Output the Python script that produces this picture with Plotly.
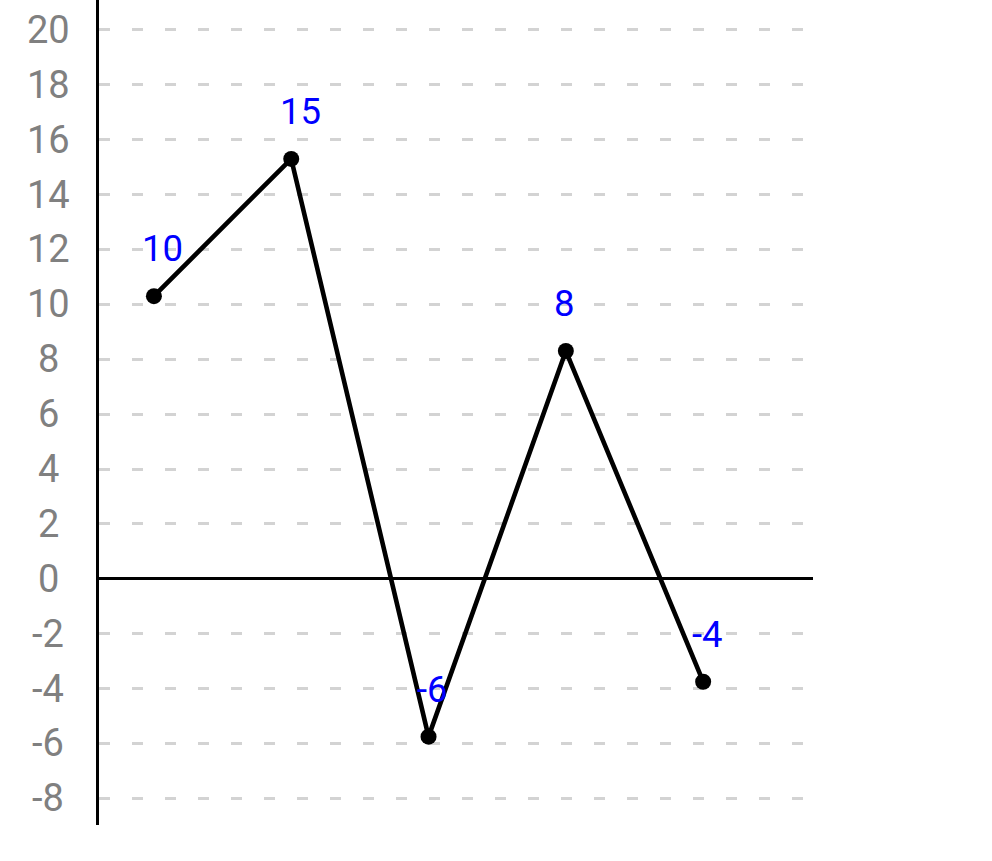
import plotly.graph_objects as go

# ---- data ----
categories = [0, 1, 2, 3, 4]
values = [10.3, 15.3, -5.75, 8.3, -3.75]
point_labels = ["10", "15", "-6", "8", "-4"]
y_ticks = [20, 18, 16, 14, 12, 10, 8, 6, 4, 2, 0, -2, -4, -6, -8]
y_tick_labels = [str(t) for t in y_ticks]

FONT = "Roboto"

fig = go.Figure()
fig.add_trace(go.Scatter(
    x=categories, y=values, mode="lines+markers",
    line=dict(color="black", width=4.6),
    marker=dict(color="black", size=16),
    hoverinfo="skip", showlegend=False,
))

annotations = []
for xv, yv, lab in zip(categories, values, point_labels):
    annotations.append(dict(
        x=xv, y=yv, xref="x", yref="y", text=lab, showarrow=False,
        xanchor="left", yanchor="bottom", xshift=-13.5, yshift=24,
        font=dict(family=FONT, size=36.5, color="#0000ff"),
    ))
for t, lab in zip(y_ticks, y_tick_labels):
    annotations.append(dict(
        x=-0.0714, y=t, xref="paper", yref="y", text=lab, showarrow=False,
        xanchor="center", yanchor="middle",
        font=dict(family=FONT, size=38, color="#808080"),
    ))

fig.update_layout(
    width=992, height=861,
    margin=dict(l=99, r=179, t=0, b=36, pad=0),
    paper_bgcolor="white", plot_bgcolor="white",
    font=dict(family=FONT),
    annotations=annotations,
    xaxis=dict(range=[-0.4, 4.8], showgrid=False, zeroline=False,
               showline=False, showticklabels=False, ticks=""),
    yaxis=dict(range=[-8.97, 21.09], tick0=0, dtick=2,
               showgrid=True, gridcolor="#d3d3d3", gridwidth=2.5,
               griddash="11px,22px",
               zeroline=True, zerolinecolor="black", zerolinewidth=2.5,
               showline=True, linecolor="black", linewidth=2.5,
               showticklabels=False, ticks=""),
)

fig.write_html("out.html")
